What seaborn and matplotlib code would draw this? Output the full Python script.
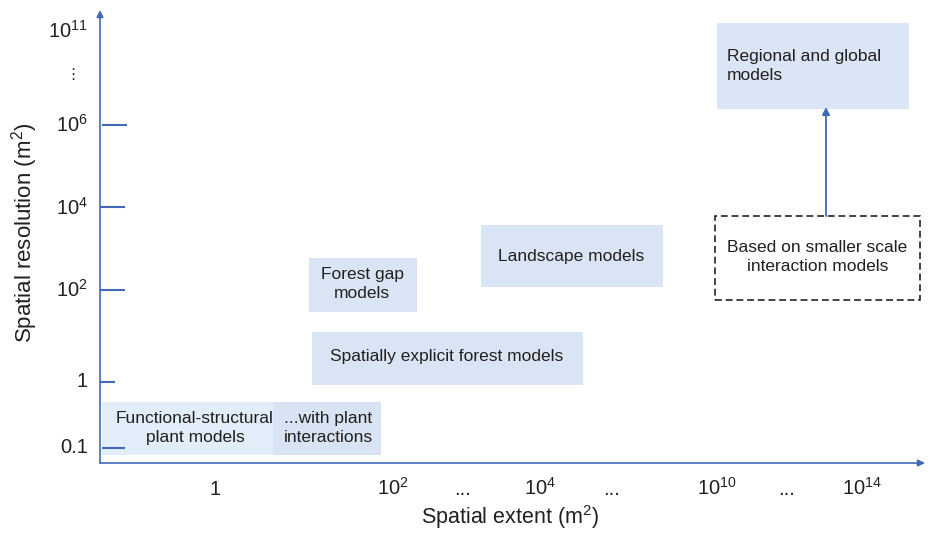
import matplotlib
matplotlib.use("Agg")
import matplotlib.pyplot as plt
import seaborn as sns
from matplotlib.patches import Rectangle

# ── Diagram data (units: position along the schematic axes) ──────────────────
model_names = [
    "Functional-structural\nplant models",
    "...with plant\ninteractions",
    "Spatially explicit forest models",
    "Forest gap\nmodels",
    "Landscape models",
    "Regional and global\nmodels",
]
extent_lo = [2, 173, 212, 209, 381, 617]
extent_hi = [173, 281, 483, 317, 563, 809]
res_lo = [8, 8, 78, 151, 176, 354]
res_hi = [61, 61, 131, 205, 238, 440]
label_x = [95, 228, 347, 262, 471, 627]
label_y = [35, 35, 106, 179, 207, 397]

based_name = "Based on smaller scale\ninteraction models"
based_extent = [615, 820]
based_res = [163, 247]
arrow_x = 726

x_tick_pos = [115, 293, 363, 440, 512, 617, 687, 762]
x_tick_labels = ["1", r"10$^{2}$", "...", r"10$^{4}$", "...",
                 r"10$^{10}$", "...", r"10$^{14}$"]
y_tick_pos = [10, 76, 166, 248, 331, 425]
y_tick_labels = ["0.1", "1", r"10$^{2}$", r"10$^{4}$", r"10$^{6}$", r"10$^{11}$"]
y_mark_pos = [15, 81, 173, 256, 338]
y_mark_start = [2, 0, 0, 0, 2]
y_mark_end = [25, 15, 25, 25, 27]

# ── Style ────────────────────────────────────────────────────────────────────
sns.set_theme(style="white")
plt.rcParams["font.family"] = ["Liberation Sans", "DejaVu Sans"]
plt.rcParams["mathtext.fontset"] = "custom"
plt.rcParams["mathtext.rm"] = "Liberation Sans"
plt.rcParams["mathtext.it"] = "Liberation Sans:italic"
plt.rcParams["mathtext.bf"] = "Liberation Sans:bold"
plt.rcParams["mathtext.default"] = "regular"

AXIS = "#4169b8"
TEXT = "#231f20"
box_fill = ["#e1eef9", "#d8e3f3", "#d9e5f4", "#d9e5f4", "#d9e5f4", "#dae5f5"]
BOX_FS = 12.5
TICK_FS = 14.5
LS = 1.28

fig = plt.figure(figsize=(9.3, 5.36), dpi=100)
ax = fig.add_axes([100 / 930, 73 / 536, 825 / 930, 453 / 536])
ax.set_xlim(0, 825)
ax.set_ylim(0, 453)
ax.axis("off")

# boxes
for name, x0, x1, y0, y1, lx, ly, fc in zip(model_names, extent_lo, extent_hi,
                                             res_lo, res_hi, label_x, label_y, box_fill):
    ax.add_patch(Rectangle((x0, y0), x1 - x0, y1 - y0, facecolor=fc,
                           edgecolor="none", zorder=1))
    ha = "left" if name.startswith("Regional") else "center"
    ax.text(lx, ly, name, ha=ha, va="center", fontsize=BOX_FS, color=TEXT,
            linespacing=LS, zorder=3)

# dashed box + arrow up to the regional box
ax.add_patch(Rectangle((based_extent[0], based_res[0]),
                       based_extent[1] - based_extent[0], based_res[1] - based_res[0],
                       facecolor="white", edgecolor="#111111", lw=1.1,
                       ls=(0, (4.5, 2.5)), clip_on=False, zorder=2))
ax.text(sum(based_extent) / 2, sum(based_res) / 2 + 1, based_name, ha="center",
        va="center", fontsize=BOX_FS, color=TEXT, linespacing=LS, zorder=3)
ax.annotate("", xy=(arrow_x, res_lo[-1] + 2), xytext=(arrow_x, based_res[1]),
            arrowprops=dict(arrowstyle="-|>", color=AXIS, lw=1.3,
                            mutation_scale=11, shrinkA=0, shrinkB=0), zorder=4)

# axes with arrows
arrow_kw = dict(arrowstyle="-|>", color=AXIS, lw=1.2, mutation_scale=10,
                shrinkA=0, shrinkB=0)
ax.annotate("", xy=(825, 0), xytext=(0, 0), arrowprops=arrow_kw, annotation_clip=False)
ax.annotate("", xy=(0, 453), xytext=(0, 0), arrowprops=arrow_kw, annotation_clip=False)

# y tick marks
ax.hlines(y_mark_pos, y_mark_start, y_mark_end, color=AXIS, lw=1.5, zorder=4)

# tick labels
for xp, lab in zip(x_tick_pos, x_tick_labels):
    ax.text(xp, -32, lab, ha="center", va="baseline", fontsize=TICK_FS,
            color=TEXT, clip_on=False)
for yp, lab in zip(y_tick_pos, y_tick_labels):
    ax.text(-12, yp, lab, ha="right", va="baseline", fontsize=TICK_FS,
            color=TEXT, clip_on=False)
ax.text(-27, 389, "\u22ee", ha="center", va="center", fontsize=11,
        color=TEXT, family="DejaVu Sans", clip_on=False)

# axis titles
ax.text(410, -61, r"Spatial extent (m$^{2}$)", ha="center", va="baseline",
        fontsize=15.5, color=TEXT, clip_on=False)
ax.text(-75, 230, r"Spatial resolution (m$^{2}$)", ha="center", va="center",
        rotation=90, fontsize=16, color=TEXT, clip_on=False)

fig.savefig("out.png", dpi=100)
